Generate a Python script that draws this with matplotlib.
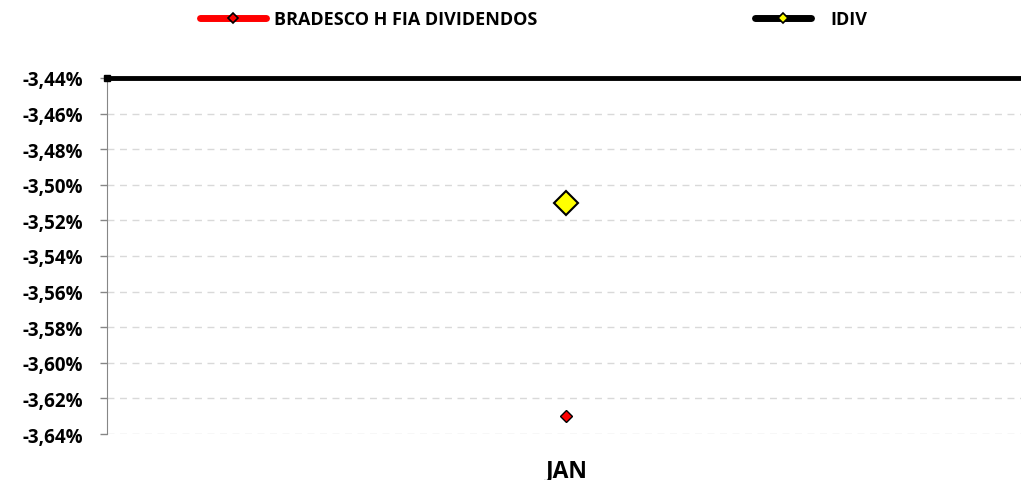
import matplotlib.pyplot as plt
from matplotlib.lines import Line2D
from matplotlib.ticker import FuncFormatter

plt.rcParams['font.family'] = ['Open Sans', 'DejaVu Sans']

categories = ['JAN']
bradesco = [-3.63]
idiv = [-3.51]
yticks = [-3.44, -3.46, -3.48, -3.50, -3.52, -3.54, -3.56, -3.58, -3.60, -3.62, -3.64]

fig = plt.figure(figsize=(10.21, 4.81), dpi=100)
ax = fig.add_axes([0.1048, 0.0956, 0.8952, 0.7402])

x = range(len(categories))
ax.plot(x, bradesco, linestyle='none', marker='D', ms=6.5, mfc='#ff0000', mec='black', mew=1, zorder=4)
ax.plot(x, idiv, linestyle='none', marker='D', ms=12.5, mfc='#ffff00', mec='black', mew=1.5, zorder=4)

ax.set_xlim(-1, 0.99)
ax.set_ylim(-3.64, -3.44)
ax.set_yticks(yticks)
ax.yaxis.set_major_formatter(FuncFormatter(lambda v, p: f'{v:.2f}%'.replace('.', ',')))
ax.set_xticks(list(x))
ax.set_xticklabels(categories)
ax.grid(axis='y', color='#d9d9d9', linestyle=(0, (5, 4)), linewidth=1)
ax.set_axisbelow(True)

for lab in ax.get_yticklabels():
    lab.set_fontweight('bold')
    lab.set_fontsize(13.5)
for lab in ax.get_xticklabels():
    lab.set_fontweight('bold')
    lab.set_fontsize(16.5)
ax.tick_params(axis='y', length=5, color='#868686', width=1, pad=12)
ax.tick_params(axis='x', length=0, pad=17)

ax.spines['bottom'].set_visible(False)
ax.spines['right'].set_visible(False)
ax.spines['left'].set_color('#868686')
ax.spines['top'].set_color('black')
ax.spines['top'].set_linewidth(3.5)
ax.spines['top'].set_capstyle('butt')
# small black cap where the axis line meets the value axis
ax.plot([0], [1], transform=ax.transAxes, marker='s', ms=4.5, color='black',
        clip_on=False, zorder=5)

h1 = Line2D([], [], color='#ff0000', lw=5, solid_capstyle='round', marker='D', ms=5.5,
            mfc='#ff0000', mec='black', mew=1.2)
h2 = Line2D([], [], color='black', lw=5, solid_capstyle='round', marker='D', ms=5.5,
            mfc='#ffff00', mec='black', mew=1.2)
prop = {'weight': 'bold', 'size': 13}
fig.legend([h1], ['BRADESCO H FIA DIVIDENDOS'], loc='center left',
           bbox_to_anchor=(200 / 1021, 1 - 20 / 481), frameon=False, borderpad=0,
           borderaxespad=0, handlelength=3.65, handletextpad=0.45, prop=prop)
fig.legend([h2], ['IDIV'], loc='center left',
           bbox_to_anchor=(755 / 1021, 1 - 20 / 481), frameon=False, borderpad=0,
           borderaxespad=0, handlelength=3.1, handletextpad=1.1, prop=prop)

fig.savefig('out.png', dpi=100)
